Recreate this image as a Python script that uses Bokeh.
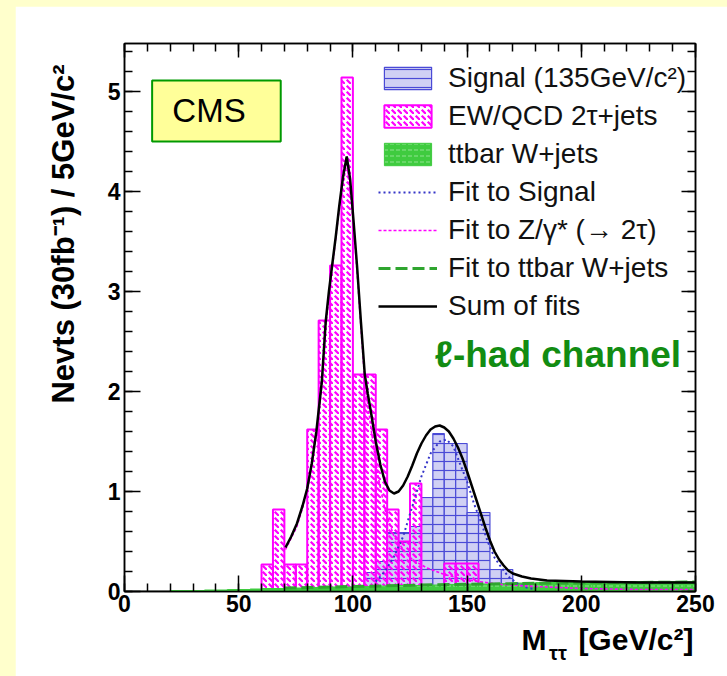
from bokeh.embed import file_html
from bokeh.layouts import column, row
from bokeh.models import (BoxAnnotation, ColumnDataSource,
                          CustomLabelingPolicy, FixedTicker, Label, Legend,
                          LegendItem, LinearAxis, Range1d,
                          SingleIntervalTicker, Spacer, Title)
from bokeh.plotting import figure
from bokeh.resources import INLINE

# ---------------------------------------------------------------- data
# 5 GeV/c^2 bins from 0 to 250 (lower edges)
bin_low = list(range(0, 250, 5))
BIN_W = 5

# Signal, m_H = 135 GeV/c^2
signal = [0, 0, 0, 0, 0, 0, 0, 0, 0, 0,
          0, 0, 0, 0, 0, 0, 0, 0, 0, 0,
          0, 0.19, 0.30, 0.59, 0.59, 0.65, 0.94, 1.58, 1.48, 1.48,
          0.79, 0.79, 0.22, 0.22, 0.05, 0.03, 0.02, 0, 0, 0,
          0, 0, 0, 0, 0, 0, 0, 0, 0, 0]

# EW/QCD Z/gamma* -> 2 tau + jets
ewqcd = [0, 0, 0, 0, 0, 0, 0, 0, 0, 0,
         0, 0, 0.27, 0.82, 0.27, 0.27, 1.62, 2.71, 3.26, 5.14,
         2.17, 2.17, 1.62, 0.82, 0.50, 1.08, 0.05, 0.05, 0.28, 0.28,
         0.28, 0, 0, 0, 0, 0, 0, 0, 0, 0,
         0, 0, 0, 0, 0, 0, 0, 0, 0, 0]

# ttbar and W+jets
ttbar = [0.005, 0.005, 0.005, 0.005, 0.01, 0.01, 0.01, 0.015, 0.015, 0.02,
         0.02, 0.025, 0.03, 0.03, 0.035, 0.035, 0.04, 0.04, 0.045, 0.045,
         0.05, 0.05, 0.055, 0.055, 0.06, 0.06, 0.065, 0.065, 0.07, 0.07,
         0.075, 0.075, 0.08, 0.08, 0.085, 0.085, 0.09, 0.09, 0.09, 0.095,
         0.095, 0.095, 0.10, 0.10, 0.10, 0.10, 0.10, 0.10, 0.10, 0.10]

# fitted curves
fit_sig_x = [110, 114, 118, 122, 126, 130, 134, 138, 141, 144, 147, 150,
             153, 156, 159, 162, 165, 168, 172, 176, 180]
fit_sig_y = [0.10, 0.20, 0.35, 0.55, 0.85, 1.15, 1.38, 1.50, 1.52, 1.45,
             1.27, 1.10, 0.88, 0.70, 0.50, 0.34, 0.24, 0.15, 0.08, 0.04, 0.02]

fit_z_x = [70.5, 75.5, 80, 84, 86.4, 88.1, 90.9, 94, 97.3, 100.3, 101.8,
           105.2, 108, 111, 114, 118, 122, 126, 132, 140, 147, 155, 165,
           180, 200, 225, 250]
fit_z_y = [0.42, 0.65, 0.99, 1.56, 2.05, 2.65, 3.22, 3.82, 4.30, 3.66, 3.20,
           2.10, 1.62, 1.15, 0.82, 0.55, 0.42, 0.32, 0.24, 0.17, 0.13, 0.10,
           0.07, 0.05, 0.03, 0.02, 0.02]

fit_tt_x = [70, 100, 130, 160, 190, 220, 250]
fit_tt_y = [0.035, 0.05, 0.065, 0.075, 0.085, 0.09, 0.095]

fit_sum_x = [70.5, 73, 75.5, 78, 80, 82, 84, 86.4, 88.1, 89.5, 90.9, 92.5,
             94, 95.7, 97.3, 98.8, 100.3, 101.8, 103.5, 105.2, 106.5, 108,
             110, 112, 114, 116, 118, 120, 122, 124, 126, 128, 130, 132, 134,
             136, 138, 140, 142, 144, 146, 148, 150, 152, 154, 156, 158, 160,
             162, 164, 166, 168, 170, 174, 178, 185, 200, 225, 250]
fit_sum_y = [0.44, 0.55, 0.68, 0.86, 1.03, 1.28, 1.60, 2.10, 2.70, 3.00,
             3.26, 3.55, 3.85, 4.15, 4.35, 4.12, 3.70, 3.26, 2.70, 2.17,
             1.98, 1.78, 1.50, 1.27, 1.10, 1.01, 0.98, 1.00, 1.06, 1.15,
             1.26, 1.38, 1.48, 1.56, 1.62, 1.65, 1.66, 1.64, 1.60, 1.53,
             1.44, 1.33, 1.20, 1.06, 0.92, 0.78, 0.64, 0.51, 0.40, 0.32,
             0.26, 0.21, 0.18, 0.15, 0.13, 0.11, 0.10, 0.09, 0.09]

legend_labels = ["Signal (135GeV/c²)", "EW/QCD 2τ+jets", "ttbar W+jets",
                 "Fit to Signal", "Fit to Z/γ* (→ 2τ)", "Fit to ttbar W+jets",
                 "Sum of fits"]

y_title = "Nevts (30fb⁻¹) / 5GeV/c²"
x_title_main = {179.3: "M", 223.9: "[GeV/c²]"}
x_title_sub = {189.8: "ττ"}

X_MAX = 250
Y_MAX = 5.48

# ---------------------------------------------------------------- style
FONT = "Liberation Sans"
PAGE_BG = "#FFFFCC"
SIG_LINE = "#4A4AD6"
SIG_FILL = "#D0D0F4"
EW_COL = "#FF00FF"
TT_COL = "#3FCB3F"
NO_LABELS = CustomLabelingPolicy(code="for (const i of indices) indices.unset(i)")


def hist_source(values):
    return ColumnDataSource(dict(
        left=bin_low,
        right=[b + BIN_W for b in bin_low],
        top=values,
        bottom=[0] * len(values),
    ))


p = figure(width=712, height=670, output_backend="svg", toolbar_location=None,
           x_range=Range1d(0, X_MAX), y_range=Range1d(0, Y_MAX),
           min_border_left=109, min_border_right=32, min_border_top=37,
           min_border_bottom=85, background_fill_color="white",
           border_fill_color="white", outline_line_color="black",
           outline_line_width=1.5)
p.grid.visible = False

# histograms
r_sig = p.quad(left="left", right="right", top="top", bottom="bottom",
               source=hist_source(signal), fill_color=SIG_FILL,
               line_color=SIG_LINE, line_width=1.2,
               hatch_pattern="horizontal_line", hatch_color=SIG_LINE,
               hatch_scale=9, hatch_weight=1.2)
r_ew = p.quad(left="left", right="right", top="top", bottom="bottom",
              source=hist_source(ewqcd), fill_color=None, line_color=EW_COL,
              line_width=2, hatch_pattern="left_diagonal_dash",
              hatch_color=EW_COL, hatch_scale=6, hatch_weight=2.2)
r_tt = p.quad(left="left", right="right", top="top", bottom="bottom",
              source=hist_source(ttbar), fill_color=TT_COL, line_color=TT_COL,
              line_width=1, hatch_pattern="horizontal_dash",
              hatch_color="#8FE38F", hatch_scale=6, hatch_weight=1)

# fits
r_fsig = p.line(fit_sig_x, fit_sig_y, line_color="#3535C8", line_width=2,
                line_dash="2 3")
r_fz = p.line(fit_z_x, fit_z_y, line_color=EW_COL, line_width=1.6,
              line_dash="3 2")
r_ftt = p.line(fit_tt_x, fit_tt_y, line_color="#2FA52F", line_width=3,
               line_dash="12 5")
r_sum = p.line(fit_sum_x, fit_sum_y, line_color="black", line_width=2.5)

# axes: ticks drawn inward on all four sides
for ax in (p.xaxis[0], p.yaxis[0]):
    ax.major_tick_in = 16
    ax.major_tick_out = 0
    ax.minor_tick_in = 8
    ax.minor_tick_out = 0
    ax.axis_line_width = 1.5
    ax.major_tick_line_width = 1.5
    ax.minor_tick_line_width = 1.5
    ax.major_label_text_font = FONT
    ax.major_label_text_font_style = "bold"
    ax.major_label_text_font_size = "23px"
    ax.major_label_text_color = "black"
p.xaxis[0].ticker = SingleIntervalTicker(interval=50, num_minor_ticks=5)
p.yaxis[0].ticker = SingleIntervalTicker(interval=1, num_minor_ticks=5)
p.xaxis[0].major_label_standoff = 3
p.yaxis[0].major_label_standoff = 4

top_ax = LinearAxis(ticker=SingleIntervalTicker(interval=50, num_minor_ticks=5),
                    major_label_policy=NO_LABELS)
right_ax = LinearAxis(ticker=SingleIntervalTicker(interval=1, num_minor_ticks=5),
                      major_label_policy=NO_LABELS)
for ax in (top_ax, right_ax):
    ax.major_tick_in = 14
    ax.major_tick_out = 0
    ax.minor_tick_in = 8
    ax.minor_tick_out = 0
    ax.axis_line_width = 1.5
    ax.major_tick_line_width = 1.5
    ax.minor_tick_line_width = 1.5
    ax.major_label_standoff = 0
p.add_layout(top_ax, "above")
p.add_layout(right_ax, "right")

# y title, aligned to the top of the frame
p.add_layout(Title(text=y_title, align="right", offset=21, standoff=47,
                   text_font=FONT, text_font_style="bold",
                   text_font_size="31px", text_color="black"), "left")


# x title: "M", subscript "ττ" and the unit, each set on a bare axis
def text_axis(labels, size, standoff):
    ax = LinearAxis(ticker=FixedTicker(ticks=list(labels)),
                    major_label_overrides=labels,
                    axis_line_color=None, major_tick_line_color=None,
                    minor_tick_line_color=None,
                    major_label_standoff=standoff,
                    major_label_text_font=FONT,
                    major_label_text_font_style="bold",
                    major_label_text_font_size=size,
                    major_label_text_color="black")
    ax.major_tick_in = 0
    ax.major_tick_out = 0
    return ax


p.add_layout(text_axis(x_title_main, "30px", 8), "below")
p.add_layout(text_axis(x_title_sub, "20px", -17), "below")

# CMS tag
p.add_layout(BoxAnnotation(left=12.1, right=68.4, bottom=4.50, top=5.11,
                           fill_color="#FFFF99", fill_alpha=1.0,
                           line_color="#009900", line_width=2,
                           line_alpha=1.0))
p.add_layout(Label(x=37.0, y=4.81, text="CMS", text_align="center",
                   text_baseline="middle", text_font=FONT,
                   text_font_size="33px", text_color="black"))

# channel tag
p.add_layout(Label(x=243.7, y=2.37, text="ℓ-had channel", text_align="right",
                   text_baseline="middle", text_font=FONT,
                   text_font_style="bold", text_font_size="37px",
                   text_color="#128C12"))

# legend
legend = Legend(items=[LegendItem(label=lab, renderers=[r]) for lab, r in zip(
    legend_labels, [r_sig, r_ew, r_tt, r_fsig, r_fz, r_ftt, r_sum])],
    location=(254, 269), orientation="vertical",
    border_line_color=None, background_fill_alpha=0.0,
    padding=0, margin=0, spacing=6, label_standoff=11,
    glyph_width=59, glyph_height=28, label_height=28,
    label_text_font=FONT, label_text_font_size="28px",
    label_text_color="#111111", label_text_baseline="middle")
p.add_layout(legend, "center")

page = column(
    Spacer(width=727, height=6, styles={"background-color": PAGE_BG}),
    row(Spacer(width=15, height=670, styles={"background-color": PAGE_BG}), p,
        spacing=0),
    spacing=0,
    styles={"background-color": PAGE_BG},
)

with open("out.html", "w") as f:
    f.write(file_html(page, INLINE))
